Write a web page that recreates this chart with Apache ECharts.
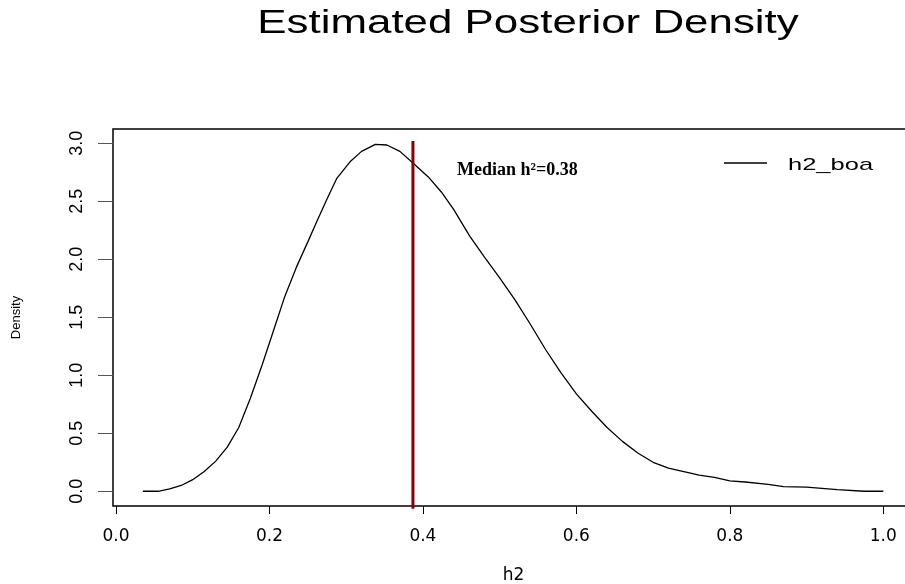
<!DOCTYPE html>
<html>
<head>
<meta charset="utf-8">
<title>Estimated Posterior Density</title>
<script src="https://cdn.jsdelivr.net/npm/echarts@6/dist/echarts.min.js"></script>
<style>
  html, body { margin: 0; padding: 0; background: #fff; }
  #main { width: 905px; height: 584px; }
</style>
</head>
<body>
<div id="main"></div>
<script>
// density curve
const densityX = [0.035, 0.055, 0.07, 0.085, 0.10, 0.115, 0.13, 0.145, 0.16, 0.175,
  0.19, 0.205, 0.22, 0.235, 0.25, 0.262, 0.275, 0.288, 0.305, 0.32,
  0.338, 0.353, 0.37, 0.387, 0.407, 0.424, 0.44, 0.461, 0.48, 0.50,
  0.52, 0.54, 0.56, 0.58, 0.60, 0.62, 0.64, 0.66, 0.68, 0.70,
  0.72, 0.74, 0.76, 0.78, 0.80, 0.82, 0.85, 0.87, 0.90, 0.94, 0.975, 1.0]
const densityY = [0, 0, 0.02, 0.05, 0.10, 0.17, 0.26, 0.38, 0.55, 0.80,
  1.08, 1.38, 1.68, 1.93, 2.15, 2.33, 2.52, 2.70, 2.84, 2.93,
  2.99, 2.985, 2.93, 2.83, 2.71, 2.58, 2.43, 2.20, 2.02, 1.84,
  1.65, 1.44, 1.22, 1.02, 0.84, 0.69, 0.55, 0.43, 0.33, 0.25,
  0.20, 0.17, 0.14, 0.12, 0.09, 0.08, 0.06, 0.04, 0.035, 0.015, 0, 0]

// median marker
const medianX = 0.387
const medianSpan = [-0.15, 3.02]
const medianText = 'Median h²=0.38'

// ticks
const xTicks = [0, 0.2, 0.4, 0.6, 0.8, 1.0]
const yTicks = [0, 0.5, 1.0, 1.5, 2.0, 2.5, 3.0]

const seriesName = 'h2_boa'

const chart = echarts.init(document.getElementById('main'))
chart.setOption({
  animation: false,
  backgroundColor: '#fff',
  grid: {
    left: 113,
    right: -9, // R plot region runs past the right edge
    top: 129,
    bottom: 78,
    show: true,
    borderColor: '#000',
    borderWidth: 1.5,
    containLabel: false,
    outerBoundsMode: 'none'
  },
  xAxis: {
    type: 'value',
    min: -0.0039,
    max: 1.040,
    name: 'h2',
    nameLocation: 'middle',
    nameGap: 61,
    nameTextStyle: { fontFamily: 'DejaVu Sans', fontSize: 17, color: '#000' },
    axisLine: { show: false, onZero: false },
    splitLine: { show: false },
    axisTick: {
      show: true,
      customValues: xTicks,
      length: 8,
      inside: false,
      lineStyle: { color: '#000', width: 1 }
    },
    axisLabel: {
      customValues: xTicks,
      margin: 22,
      fontFamily: 'DejaVu Sans',
      fontSize: 17,
      color: '#000',
      formatter: v => v.toFixed(1)
    }
  },
  yAxis: {
    type: 'value',
    min: -0.127,
    max: 3.123,
    name: 'Density',
    nameLocation: 'middle',
    nameGap: 90,
    nameRotate: 90,
    nameTextStyle: { fontFamily: 'Liberation Sans', fontSize: 13, color: '#000' },
    axisLine: { show: false, onZero: false },
    splitLine: { show: false },
    axisTick: {
      show: true,
      customValues: yTicks,
      length: 15,
      lineStyle: { color: '#555', width: 1 }
    },
    axisLabel: {
      customValues: yTicks,
      rotate: 90,
      margin: 27,
      fontFamily: 'Liberation Sans',
      fontSize: 18,
      color: '#000',
      formatter: v => v.toFixed(1)
    }
  },
  series: [
    {
      name: seriesName,
      type: 'line',
      data: densityX.map((x, i) => [x, densityY[i]]),
      showSymbol: false,
      smooth: false,
      lineStyle: { color: '#000', width: 1.3 }
    },
    {
      name: 'median',
      type: 'line',
      data: medianSpan.map(y => [medianX, y]),
      showSymbol: false,
      clip: false,
      lineStyle: { color: '#8B0000', width: 3 }
    }
  ],
  graphic: [
    // title, the R font is drawn wide so stretch it
    {
      type: 'text',
      x: 528,
      y: 24,
      scaleX: 1.33,
      style: {
        text: 'Estimated Posterior Density',
        x: 0,
        y: 0,
        textAlign: 'center',
        textVerticalAlign: 'middle',
        font: '33px "Liberation Sans"',
        fill: '#000'
      }
    },
    // legend (bty = "n")
    {
      type: 'line',
      shape: { x1: 724, y1: 163, x2: 767, y2: 163 },
      style: { stroke: '#000', lineWidth: 1.3 }
    },
    {
      type: 'text',
      x: 788,
      y: 165,
      scaleX: 1.5,
      style: {
        text: seriesName,
        x: 0,
        y: 0,
        textAlign: 'left',
        textVerticalAlign: 'middle',
        font: '17px "Liberation Sans"',
        fill: '#000'
      }
    },
    // median annotation
    {
      type: 'text',
      x: 457,
      y: 170,
      style: {
        text: medianText,
        x: 0,
        y: 0,
        textAlign: 'left',
        textVerticalAlign: 'middle',
        font: 'bold 18px "Liberation Serif"',
        fill: '#000'
      }
    }
  ]
})
</script>
</body>
</html>
